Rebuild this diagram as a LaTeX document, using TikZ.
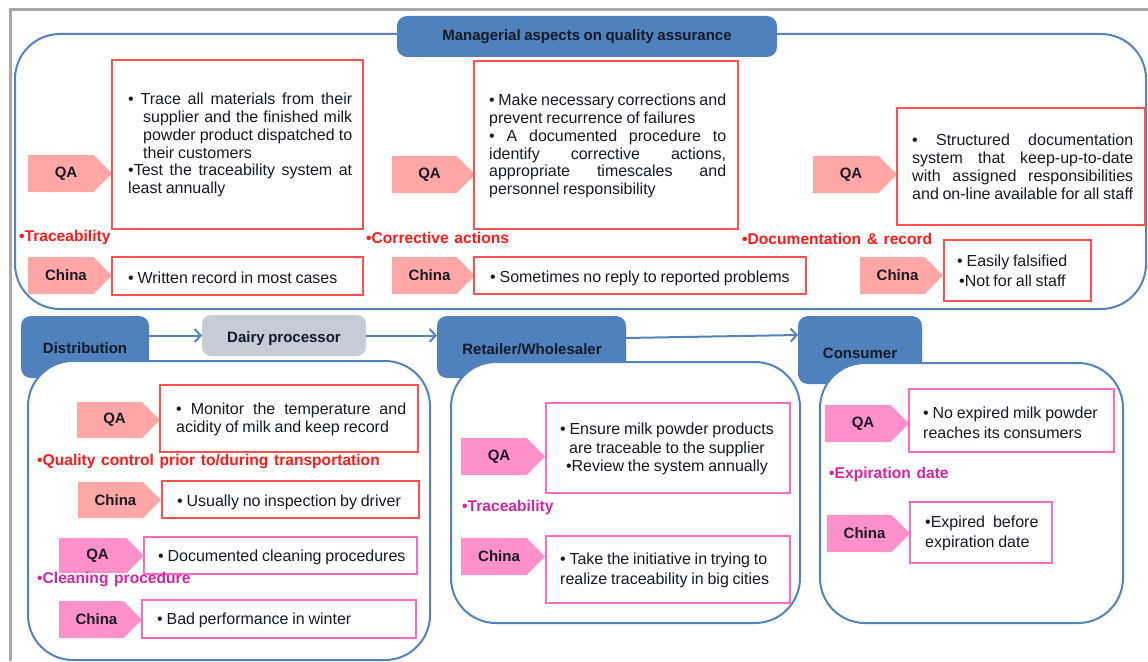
\documentclass[tikz,border=0pt]{standalone}
\usepackage{fontspec}
\setmainfont{Liberation Sans}[WordSpace=0.85]
\newfontfamily\labelfamily{Liberation Sans}[WordSpace=1.3]
\usetikzlibrary{arrows.meta}
\setlength{\parindent}{0pt}

\definecolor{tabblue}{RGB}{79,129,189}
\definecolor{linkblue}{RGB}{84,130,190}
\definecolor{dairygray}{RGB}{197,204,214}
\definecolor{salmon}{RGB}{255,166,166}
\definecolor{rosepink}{RGB}{255,145,202}
\definecolor{redline}{RGB}{255,80,80}
\definecolor{pinkline}{RGB}{255,105,190}
\definecolor{redlabel}{RGB}{255,25,25}
\definecolor{magentalabel}{RGB}{214,36,160}
\definecolor{ink}{RGB}{25,25,35}
\definecolor{tabink}{RGB}{15,25,40}
\definecolor{framegray}{RGB}{168,168,168}

\newcommand{\bodyfont}{\fontsize{16}{17.9}\selectfont}
\newcommand{\headfont}{\fontsize{15}{18}\selectfont\bfseries}
\newcommand{\topicfont}{\labelfamily\fontsize{15.6}{18}\selectfont\bfseries}

% rectangle node given by its corners: name, x1, y1, x2, y2, style
\newcommand{\areabox}[6]{%
  \node[#6, minimum width={#4pt-#2pt}, minimum height={#5pt-#3pt}]
    (#1) at ({(#2+#4)/2},{(#3+#5)/2}) {};}
% arrow-shaped tag: name, x1, y1, x2, y2, fill, label
\newcommand{\tagarrow}[7]{%
  \fill[#6] (#2,#3) -- ({#4-(#5-#3)/2},#3) -- (#4,{(#3+#5)/2})
     -- ({#4-(#5-#3)/2},#5) -- (#2,#5) -- cycle;
  \node[tagtext] (#1) at ({(#2+#4)/2-4},{(#3+#5)/2}) {#7};}

\tikzset{
  area/.style={draw=linkblue, line width=2pt, fill=white, rounded corners=45pt,
    inner sep=0pt, outer sep=0pt},
  tab/.style={fill=tabblue, rounded corners=10pt, inner sep=0pt, outer sep=0pt},
  graytab/.style={fill=dairygray, rounded corners=9pt, inner sep=0pt, outer sep=0pt},
  redbox/.style={draw=redline, line width=1.5pt, fill=white, inner sep=0pt, outer sep=0pt},
  pinkbox/.style={draw=pinkline, line width=1.5pt, fill=white, inner sep=0pt, outer sep=0pt},
  tabtext/.style={font=\headfont, text=tabink, inner sep=0pt},
  tagtext/.style={font=\headfont, text=ink, inner sep=0pt},
  body/.style={font=\bodyfont, text=ink, inner sep=0pt, anchor=west},
  just/.style={body, align=justify},
  lines/.style={body, align=left, font=\fontsize{16}{20}\selectfont},
  redhead/.style={font=\topicfont, text=redlabel, inner sep=0pt, anchor=west},
  maghead/.style={font=\topicfont, text=magentalabel, inner sep=0pt, anchor=west},
  flow/.style={draw=linkblue, line width=2pt, -{Straight Barb[length=6pt,width=13pt]}},
}

\begin{document}
\begin{tikzpicture}[x=1pt,y=-1pt]
\useasboundingbox (0,0) rectangle (1148,661);

% page frame
\draw[framegray, line width=3pt] (10.5,661) -- (10.5,9.5) -- (1148,9.5);

% ---------- managerial aspects ----------
\areabox{top}{15}{34}{1146}{309}{area}
\areabox{head}{397}{16}{777}{57}{tab}
\node[tabtext] (headtext) at (587,37) {Managerial aspects on quality assurance};

\tagarrow{qa1}{28}{155}{112}{192}{salmon}{QA}
\tagarrow{cn1}{28}{257}{112}{294}{salmon}{China}
\tagarrow{qa2}{392}{156}{475}{193}{salmon}{QA}
\tagarrow{cn2}{392}{257}{475}{294}{salmon}{China}
\tagarrow{qa3}{813}{156}{897}{193}{salmon}{QA}
\tagarrow{cn3}{860}{257}{943}{294}{salmon}{China}

\areabox{b1}{112}{60}{363}{229}{redbox}
\areabox{c1}{112}{257}{363}{295}{redbox}
\areabox{b2}{474}{61}{738}{229}{redbox}
\areabox{c2}{474}{257}{806}{294}{redbox}
\areabox{b3}{897}{108}{1145}{225}{redbox}
\areabox{c3}{944}{240}{1091}{301}{redbox}

\node[just, text width=224pt] (t1) at (128,145)
  {\hangindent=15pt\hangafter=1 • Trace all materials from their\linebreak
   supplier and the finished milk\linebreak powder product dispatched to\linebreak
   their customers\par
   \hangindent=7pt\hangafter=1 •Test the traceability system at\linebreak least annually};
\node[body] (u1) at (128,278) {• Written record in most cases};

\node[just, text width=237pt] (t2) at (489,146)
  {• Make necessary corrections and\linebreak prevent recurrence of failures\par
   • A documented procedure to\linebreak identify corrective actions,\linebreak
   appropriate timescales and\linebreak personnel responsibility};
\node[body] (u2) at (490,278) {• Sometimes no reply to reported problems};

\node[just, text width=221pt] (t3) at (912,167)
  {• Structured documentation\linebreak system that keep-up-to-date\linebreak
   with assigned responsibilities\linebreak and on-line available for all staff};
\node[lines] (u3) at (957,270.5) {• Easily falsified\\\hspace*{2pt}•Not for all staff};

\node[redhead] (l1) at (19,237) {•Traceability};
\node[redhead] (l2) at (366,238) {•Corrective actions};
\node[redhead] (l3) at (742,239) {•Documentation \& record};

% ---------- supply chain stages ----------
\areabox{dist}{21}{316}{149}{378}{tab}
\areabox{dairy}{202}{315}{366}{356}{graytab}
\areabox{ret}{437}{316}{626}{378}{tab}
\areabox{cons}{798}{316}{922}{384}{tab}

\areabox{distarea}{28}{361}{430}{660}{area}
\areabox{retarea}{451}{362}{800}{623}{area}
\areabox{consarea}{820}{363}{1123}{623}{area}

\node[tabtext] (disttext) at (85,348) {Distribution};
\node[tabtext] (dairytext) at (284,339) {Dairy processor};
\node[tabtext] (rettext) at (532,349) {Retailer/Wholesaler};
\node[tabtext] (constext) at (860,353) {Consumer};

\draw[flow] (dist.north east |- dairy.west) -- (dairy.west);
\draw[flow] (dairy.east) -- (dairy.east -| ret.west);
\draw[flow] ([yshift=-22pt]ret.north east) -- ([yshift=-19pt]cons.north west);

% distribution
\tagarrow{qa4}{77}{402}{160}{438}{salmon}{QA}
\tagarrow{cn4}{78}{482}{161}{518}{salmon}{China}
\tagarrow{qa5}{59}{538}{144}{573}{rosepink}{QA}
\tagarrow{cn5}{59}{601}{142}{638}{rosepink}{China}
\areabox{b4}{160}{385}{418}{452}{redbox}
\areabox{c4}{162}{481}{419}{518}{redbox}
\areabox{b5}{144}{537}{417}{574}{pinkbox}
\areabox{c5}{142}{600}{416}{638}{pinkbox}
\node[just, text width=230pt] (t4) at (176,419)
  {• Monitor the temperature and\linebreak acidity of milk and keep record};
\node[body] (u4) at (177,502) {• Usually no inspection by driver};
\node[body] (u5) at (158,557) {• Documented cleaning procedures};
\node[body] (u6) at (157,620) {• Bad performance in winter};
\node[redhead] (l4) at (37,461) {•Quality control prior to/during transportation};
\node[maghead] (l5) at (37,579) {•Cleaning procedure};

% retailer / wholesaler
\tagarrow{qa6}{461}{438}{545}{475}{rosepink}{QA}
\tagarrow{cn6}{461}{538}{545}{575}{rosepink}{China}
\areabox{b6}{546}{403}{790}{493}{pinkbox}
\areabox{c6}{546}{536}{790}{603}{pinkbox}
\node[body, anchor=center, align=center, font=\fontsize{16}{18.5}\selectfont] (t6) at (667,449)
  {• Ensure milk powder products\\are traceable to the supplier\\•Review the system annually};
\node[lines] (u7) at (560,570)
  {• Take the initiative in trying to\\realize traceability in big cities};
\node[maghead] (l6) at (462,507) {•Traceability};

% consumer
\tagarrow{qa7}{825}{405}{909}{442}{rosepink}{QA}
\tagarrow{cn7}{827}{515}{910}{552}{rosepink}{China}
\areabox{b7}{909}{389}{1114}{452}{pinkbox}
\areabox{c7}{910}{502}{1052}{563}{pinkbox}
\node[lines] (u8) at (923,422.5) {• No expired milk powder\\reaches its consumers};
\node[lines] (u9) at (925,533.5) {•Expired\hspace{8pt}before\\expiration date};
\node[maghead] (l7) at (829,474) {•Expiration date};

\end{tikzpicture}
\end{document}
